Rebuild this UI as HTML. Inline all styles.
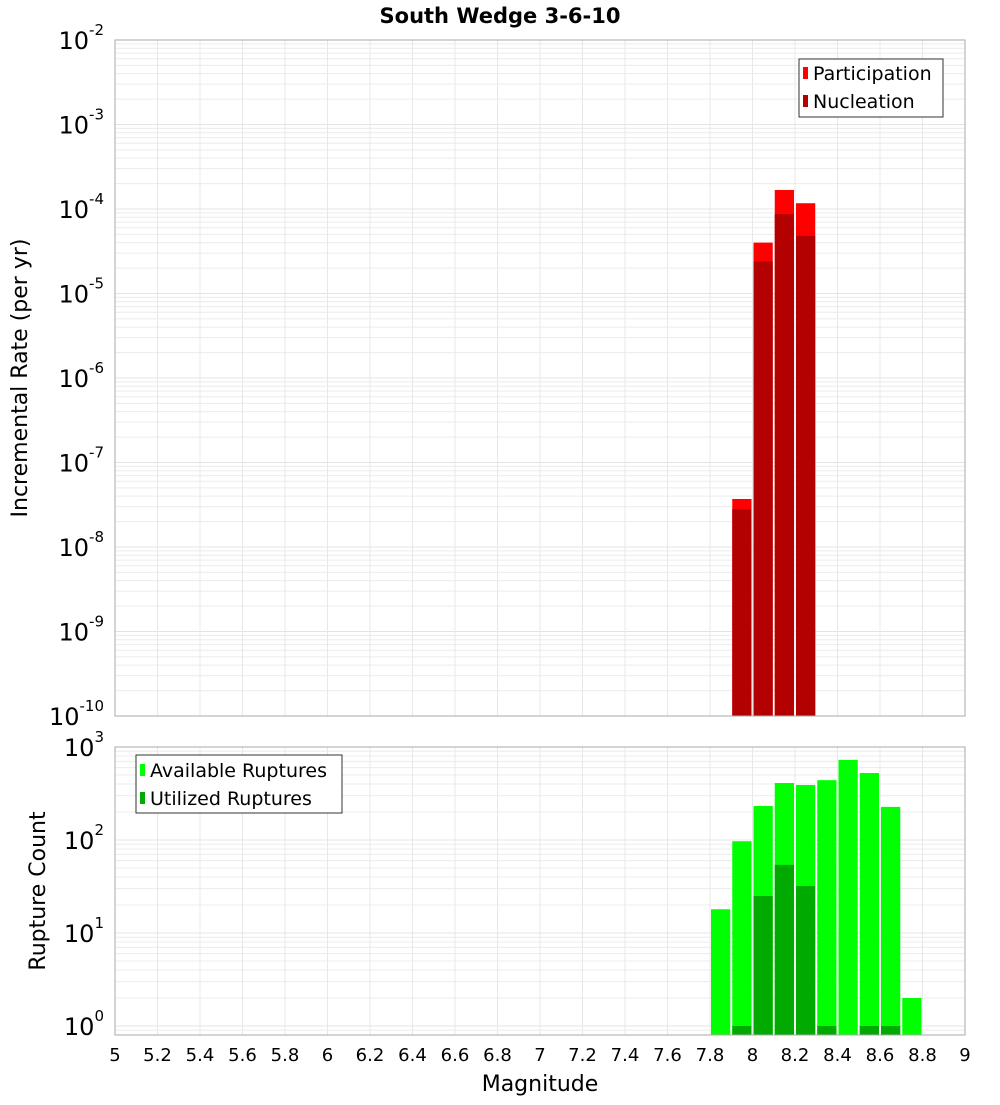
<!DOCTYPE html>
<html><head><meta charset="utf-8"><style>
body{margin:0;background:#fff;}
svg text{font-family:"DejaVu Sans","Liberation Sans",sans-serif;}
</style></head><body>
<svg id="chart" width="1000" height="1100" xmlns="http://www.w3.org/2000/svg"></svg>
<script>
const topMags = [7.9, 8.0, 8.1, 8.2];
const participation = [3.7e-8, 4.0e-5, 1.68e-4, 1.17e-4];
const nucleation = [2.8e-8, 2.4e-5, 8.7e-5, 4.8e-5];
const botMags = [7.8, 7.9, 8.0, 8.1, 8.2, 8.3, 8.4, 8.5, 8.6, 8.7];
const available = [18, 97, 232, 410, 390, 440, 727, 525, 227, 2];
const utilizedMags = [7.9, 8.0, 8.1, 8.2, 8.3, 8.5, 8.6];
const utilized = [1, 25, 54, 32, 1, 1, 1];
const xTicks = [5,5.2,5.4,5.6,5.8,6,6.2,6.4,6.6,6.8,7,7.2,7.4,7.6,7.8,8,8.2,8.4,8.6,8.8,9];
const topExp = [-2,-3,-4,-5,-6,-7,-8,-9,-10];
const botExp = [3,2,1,0];

const svg = document.getElementById('chart');
const NS = 'http://www.w3.org/2000/svg';
function mk(tag, attrs, parent){const e=document.createElementNS(NS,tag);for(const k in attrs)e.setAttribute(k,attrs[k]);(parent||svg).appendChild(e);return e;}
const X0=115, X1=965;
const xs = m => X0 + (m-5)/(9-5)*(X1-X0);
const T0=40, T1=716;
const yTop = v => T0 + (-2 - Math.log10(v))*(T1-T0)/8;
const B0=747, B1=1035;
const yBot = v => 1026 - Math.log10(v)*93;

function grid(y0,y1,yf,eMin,eMax,g){
  for(let e=eMin;e<eMax;e++){for(let k=1;k<10;k++){const y=yf(k*Math.pow(10,e));if(y<y0-0.5||y>y1+0.5)continue;
    const l=mk('line',{x1:X0,x2:X1,y1:y,y2:y,stroke:k==1?'#e4e4e4':'#ececec','stroke-width':1},g);
    }}
  xTicks.forEach(t=>{const x=xs(t);const l=mk('line',{x1:x,x2:x,y1:y0,y2:y1,stroke:'#e8e8e8'},g);
    });
}
const t=mk('text',{x:500,y:23,'text-anchor':'middle','font-size':21,'font-weight':'bold'});
t.textContent='South Wedge 3-6-10';

// top panel
const gt=mk('g',{});
grid(T0,T1,yTop,-10,-2,gt);
const bw=(X1-X0)/40;
topMags.forEach((m,i)=>{
  const x=xs(m)+1;
  const r=mk('rect',{x:x,y:yTop(participation[i]),width:bw-2,height:T1-yTop(participation[i]),fill:'#ff0000'},gt);
  
  const r2=mk('rect',{x:x,y:yTop(nucleation[i]),width:bw-2,height:T1-yTop(nucleation[i]),fill:'#b30000'},gt);
  
});
mk('rect',{x:X0,y:T0,width:X1-X0,height:T1-T0,fill:'none',stroke:'#aaa'},gt);
topExp.forEach(e=>{const y=yTop(Math.pow(10,e));
  const tx=mk('text',{x:104,y:y+9,'text-anchor':'end','font-size':24},gt);
  
  tx.innerHTML='10<tspan dy="-14" font-size="15">'+e+'</tspan>';});
const yl=mk('text',{x:27,y:378,'text-anchor':'middle','font-size':22,transform:'rotate(-90 27 378)'},gt);
yl.textContent='Incremental Rate (per yr)';
const lg=mk('g',{});
mk('rect',{x:799,y:59,width:144,height:58,fill:'#fff',stroke:'#333'},lg);
mk('rect',{x:803,y:67,width:5,height:12,fill:'#ff0000'},lg);
mk('rect',{x:803,y:95,width:5,height:12,fill:'#b30000'},lg);
let e1=mk('text',{x:813,y:80,'font-size':19},lg);e1.textContent='Participation';
let e2=mk('text',{x:813,y:108,'font-size':19},lg);e2.textContent='Nucleation';

// bottom panel
const gb=mk('g',{});
grid(B0,B1,yBot,-1,3,gb);
botMags.forEach((m,i)=>{const r=mk('rect',{x:xs(m)+1,y:yBot(available[i]),width:bw-2,height:B1-yBot(available[i]),fill:'#00ff00'},gb);
  });
utilizedMags.forEach((m,i)=>{const r=mk('rect',{x:xs(m)+1,y:yBot(utilized[i]),width:bw-2,height:B1-yBot(utilized[i]),fill:'#00aa00'},gb);
  });
mk('rect',{x:X0,y:B0,width:X1-X0,height:B1-B0,fill:'none',stroke:'#aaa'},gb);
botExp.forEach(e=>{const y=yBot(Math.pow(10,e));
  const tx=mk('text',{x:104,y:y+9,'text-anchor':'end','font-size':24},gb);
  
  tx.innerHTML='10<tspan dy="-14" font-size="15">'+e+'</tspan>';});
const yl2=mk('text',{x:45,y:891,'text-anchor':'middle','font-size':22,transform:'rotate(-90 45 891)'},gb);
yl2.textContent='Rupture Count';
xTicks.forEach(v=>{const tx=mk('text',{x:xs(v),y:1061,'text-anchor':'middle','font-size':18},gb);
  tx.textContent=String(v);});
const xl=mk('text',{x:540,y:1091,'text-anchor':'middle','font-size':22},gb);
xl.textContent='Magnitude';
const lg2=mk('g',{});
mk('rect',{x:136,y:755,width:206,height:58,fill:'#fff',stroke:'#333'},lg2);
mk('rect',{x:140,y:764,width:5,height:12,fill:'#00ff00'},lg2);
mk('rect',{x:140,y:792,width:5,height:12,fill:'#00aa00'},lg2);
let e3=mk('text',{x:150,y:777,'font-size':19},lg2);e3.textContent='Available Ruptures';
let e4=mk('text',{x:150,y:805,'font-size':19},lg2);e4.textContent='Utilized Ruptures';
</script>
</body></html>
